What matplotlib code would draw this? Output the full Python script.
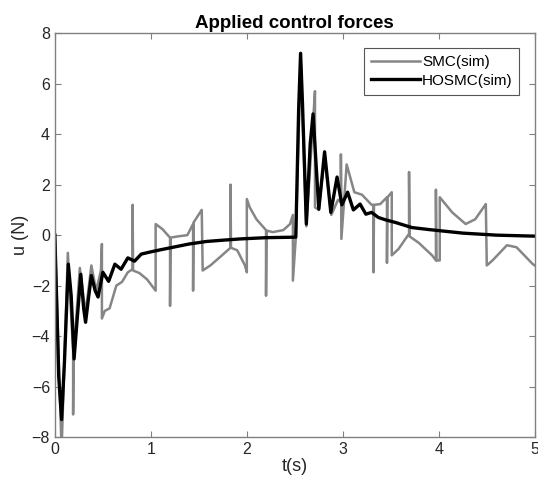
import matplotlib.pyplot as plt

plt.rcParams['font.family'] = ['Liberation Sans', 'DejaVu Sans']

# HOSMC (sim) control force
hosmc_t = [0.0, 0.04, 0.07, 0.10, 0.14, 0.17, 0.20, 0.235, 0.27, 0.30, 0.32, 0.35, 0.38,
           0.42, 0.45, 0.50, 0.56, 0.625, 0.69,
           0.76, 0.83, 0.90, 0.99, 1.10, 1.23, 1.40, 1.58, 1.75, 1.93, 2.20, 2.51,
           2.54, 2.56, 2.58, 2.62, 2.66, 2.69, 2.72, 2.75, 2.81, 2.875, 2.94, 2.99,
           3.05, 3.11, 3.18, 3.24,
           3.30, 3.37, 3.45, 3.55, 3.72, 3.90, 4.25, 4.60, 5.00]
hosmc_u = [0.0, -5.6, -7.3, -5.0, -1.15, -2.4, -4.9, -3.2, -1.55, -2.9, -3.45, -2.5, -1.6,
           -2.2, -2.45, -1.47, -1.83, -1.15, -1.35,
           -0.9, -1.03, -0.75, -0.67, -0.58, -0.48, -0.35, -0.25, -0.2, -0.15, -0.1, -0.08,
           5.0, 7.2, 5.2, 0.44, 3.6, 4.8, 2.9, 1.03, 3.3, 0.9, 2.3, 1.2,
           1.7, 1.0, 1.23, 0.83,
           0.9, 0.7, 0.6, 0.5, 0.3, 0.22, 0.08, 0.0, -0.04]

# SMC (sim) control force with its chattering spikes
smc_t = [0.0, 0.07, 0.135, 0.19, 0.19, 0.195, 0.26, 0.32, 0.38, 0.43, 0.48, 0.49, 0.49,
         0.52, 0.57, 0.64, 0.70, 0.76, 0.81, 0.81, 0.815, 0.88, 0.96, 1.05, 1.05,
         1.12, 1.20, 1.20, 1.205, 1.28, 1.38, 1.44, 1.44, 1.445, 1.53, 1.54, 1.62,
         1.72, 1.80, 1.83, 1.83, 1.835, 1.90, 1.98, 2.00, 2.00, 2.03, 2.10, 2.19,
         2.20, 2.20, 2.205, 2.27, 2.38, 2.45, 2.48, 2.48, 2.51, 2.56, 2.62, 2.69,
         2.71, 2.71, 2.75, 2.81, 2.88, 2.95, 2.98, 2.98, 2.985, 3.04, 3.12, 3.20,
         3.30, 3.32, 3.32, 3.325, 3.39, 3.46, 3.46, 3.465, 3.51, 3.51, 3.58, 3.68,
         3.69, 3.69, 3.695, 3.79, 3.93, 3.97, 3.97, 3.975, 4.01, 4.01, 4.14, 4.28,
         4.38, 4.49, 4.50, 4.56, 4.71, 4.81, 4.98, 5.00]
smc_u = [0.0, -8.5, -0.7, -4.6, -7.1, -4.7, -1.3, -3.1, -1.2, -2.2, -1.4, -0.35, -3.3,
         -3.0, -2.9, -2.0, -1.85, -1.47, -1.35, 1.2, -1.4, -1.5, -1.75, -2.2, 0.44,
         0.24, -0.1, -2.8, -0.1, -0.05, 0.0, 0.44, -2.2, 0.5, 1.0, -1.4, -1.2,
         -0.87, -0.6, -0.5, 2.0, -0.5, -0.6, -1.2, -1.47, 1.43, 1.1, 0.63, 0.24,
         0.2, -2.4, 0.18, 0.12, 0.2, 0.44, 0.8, -1.8, -0.1, 6.9, 0.35, 4.5,
         5.7, 1.1, 1.0, 3.1, 0.8, 1.4, 1.3, 3.2, -0.15, 2.8, 1.7, 1.6,
         1.2, 1.2, -1.47, 1.2, 1.23, 1.5, -1.1, 1.5, 1.7, -0.8, -0.55, 0.0,
         0.0, 2.5, -0.05, -0.3, -0.8, -1.0, 1.8, -1.0, -1.0, 1.5, 0.9, 0.44,
         0.63, 1.23, -1.2, -1.0, -0.4, -0.48, -1.15, -1.2]

fig = plt.figure(figsize=(5.38, 4.94), dpi=100)
ax = fig.add_axes([0.102, 0.115, 0.892, 0.818])

ax.plot(smc_t, smc_u, color='#868686', linewidth=1.8, label='SMC(sim)')
ax.plot(hosmc_t, hosmc_u, color='black', linewidth=2.4, label='HOSMC(sim)',
        solid_joinstyle='round')

ax.set_xlim(0, 5)
ax.set_ylim(-8, 8)
ax.set_xticks([0, 1, 2, 3, 4, 5])
ax.set_yticks([-8, -6, -4, -2, 0, 2, 4, 6, 8])

for s in ax.spines.values():
    s.set_color('#808080')
    s.set_linewidth(1.0)
ax.tick_params(direction='in', top=True, right=True, length=4, width=0.8,
               color='#808080', labelcolor='#262626', labelsize=11.5)

ax.set_title('Applied control forces', fontsize=13.5, fontweight='bold', pad=4)
ax.set_xlabel('t(s)', fontsize=13, color='#262626', labelpad=1)
ax.set_ylabel('u (N)', fontsize=13, color='#262626', labelpad=2)

leg = ax.legend(loc='upper right', fontsize=11, handlelength=3.2, borderaxespad=1.0,
                fancybox=False, framealpha=1, edgecolor='#555555', borderpad=0.45,
                labelspacing=0.3, handletextpad=0.15)
leg.get_frame().set_linewidth(0.8)

fig.savefig('out.png', dpi=100)
